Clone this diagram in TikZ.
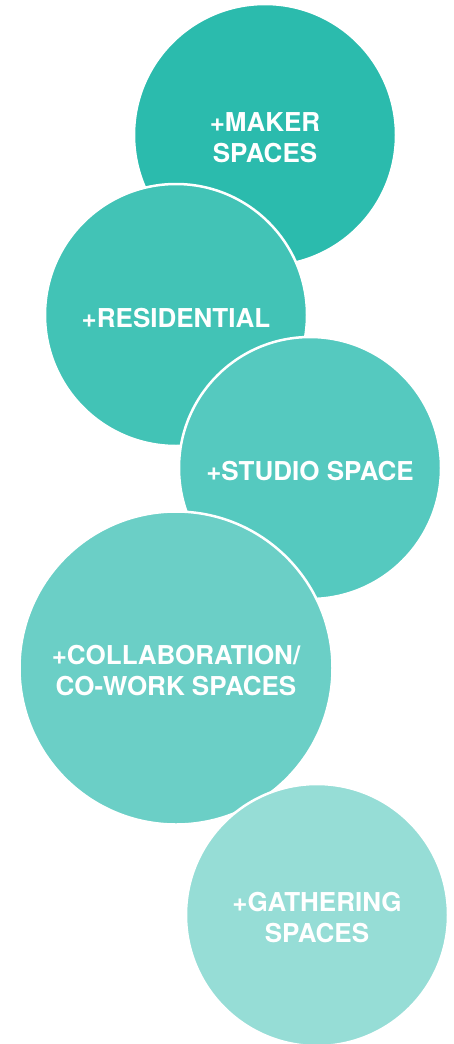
\documentclass[tikz,border=0pt]{standalone}
\usepackage{fontspec}
\setmainfont{TeX Gyre Heros}
\usepackage{tikz}

\definecolor{tealA}{HTML}{2BBBAD}
\definecolor{tealB}{HTML}{42C3B6}
\definecolor{tealC}{HTML}{55C9BF}
\definecolor{tealD}{HTML}{6BCFC6}
\definecolor{tealE}{HTML}{96DDD6}

\tikzset{
  bubble/.style={circle, draw=white, line width=2.5pt, inner sep=0pt, minimum size=262pt},
  caption/.style={text=white, align=center, yshift=-3pt,
    font=\fontsize{26}{31}\selectfont\bfseries},
}

\begin{document}
\begin{tikzpicture}[x=1pt, y=-1pt]
		\useasboundingbox (0,0) rectangle (454,1044);
		
		\node [bubble, fill=tealA] (maker) at (265,135) {};
		\node [caption] (makertext) at (maker) {+MAKER\\SPACES};
		
		\node [bubble, fill=tealB] (residential) at (176,315) {};
		\node [caption] (residentialtext) at (residential) {+RESIDENTIAL};
		
		\node [bubble, fill=tealC] (studio) at (310,468) {};
		\node [caption] (studiotext) at (studio) {+STUDIO SPACE};
		
		\node [bubble, fill=tealD, minimum size=313pt] (collab) at (176,668) {};
		\node [caption] (collabtext) at (collab) {+COLLABORATION/\\CO-WORK SPACES};
		
		\node [bubble, fill=tealE] (gathering) at (317,915) {};
		\node [caption] (gatheringtext) at (gathering) {+GATHERING\\SPACES};
\end{tikzpicture}
\end{document}
